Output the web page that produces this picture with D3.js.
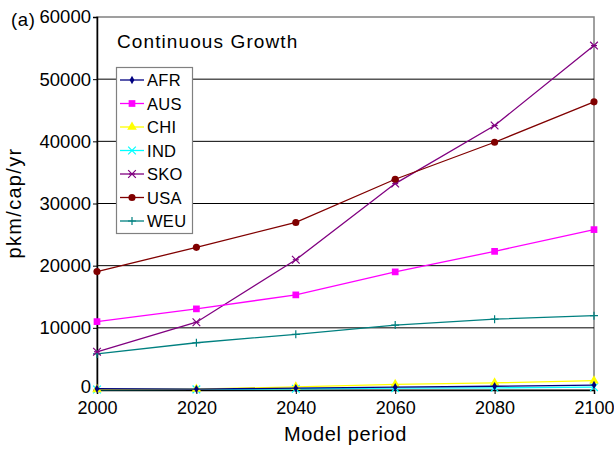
<!DOCTYPE html>
<html>
<head>
<meta charset="utf-8">
<script src="https://cdn.jsdelivr.net/npm/d3@7"></script>
<style>
  body { margin: 0; background: #fff; }
  text { font-family: "Liberation Sans", Arial, sans-serif; }
</style>
</head>
<body>
<div id="wrapper"></div>
<script>
const years = [2000, 2020, 2040, 2060, 2080, 2100];
const yTicks = [0, 10000, 20000, 30000, 40000, 50000, 60000];
const regions = ["AFR", "AUS", "CHI", "IND", "SKO", "USA", "WEU"];
const colors = ["#000080", "#ff00ff", "#ffff00", "#00ffff", "#800080", "#800000", "#008080"];
const markers = ["diamond", "square", "triangle", "x", "star", "circle", "plus"];

const afr = [200, 150, 300, 450, 600, 800];
const aus = [11000, 13050, 15300, 19000, 22300, 25800];
const chi = [100, 150, 500, 900, 1150, 1500];
const ind = [80, 100, 200, 300, 350, 450];
const sko = [6150, 10900, 20950, 33200, 42550, 55400];
const usa = [19050, 22950, 26950, 33900, 39850, 46350];
const weu = [5800, 7600, 8950, 10450, 11400, 11950];
const series = [afr, aus, chi, ind, sko, usa, weu];

async function drawChart() {
    let dimensions = {
        width: 614,
        height: 449,
        margins: { top: 17, right: 20, bottom: 59, left: 97 }
    };
    dimensions.boundedWidth = dimensions.width - dimensions.margins.left - dimensions.margins.right;
    dimensions.boundedHeight = dimensions.height - dimensions.margins.top - dimensions.margins.bottom;

    const wrapper = d3.select('#wrapper')
        .append('svg')
        .attr('width', dimensions.width)
        .attr('height', dimensions.height);

    const bounds = wrapper.append('g')
        .attr('transform', `translate(${dimensions.margins.left},${dimensions.margins.top})`);

    const xScale = d3.scaleLinear()
        .domain([2000, 2100])
        .range([0, dimensions.boundedWidth]);

    const yScale = d3.scaleLinear()
        .domain([0, 60000])
        .range([dimensions.boundedHeight, 0]);

    // frame: top and right in gray
    bounds.append('rect')
        .attr('x', 0).attr('y', 0)
        .attr('width', dimensions.boundedWidth)
        .attr('height', dimensions.boundedHeight)
        .attr('fill', 'none')
        .attr('stroke', '#808080')
        .attr('stroke-width', 1.5);

    // gridlines
    bounds.append('g').selectAll('line')
        .data(yTicks.slice(1, -1))
        .join('line')
        .attr('x1', 0).attr('x2', dimensions.boundedWidth)
        .attr('y1', d => yScale(d)).attr('y2', d => yScale(d))
        .attr('stroke', '#000')
        .attr('stroke-width', 1);

    const yAxis = bounds.append('g')
        .call(d3.axisLeft(yScale).tickValues(yTicks).tickSize(4).tickPadding(2).tickFormat(d3.format('d')));
    yAxis.select('.domain').attr('stroke', '#000').attr('stroke-width', 1.5);
    yAxis.selectAll('text').attr('font-size', 18.5).attr('fill', '#000')
        .style('font-family', '"Liberation Sans", Arial, sans-serif');
    // zero label sits a little higher so it clears the 2000 label
    yAxis.selectAll('.tick').filter(d => d === 0).select('text').attr('y', -3);

    const xAxis = bounds.append('g')
        .attr('transform', `translate(0,${dimensions.boundedHeight})`)
        .call(d3.axisBottom(xScale).tickValues(years).tickSize(4).tickPadding(7).tickFormat(d3.format('d')));
    xAxis.select('.domain').attr('stroke', '#000').attr('stroke-width', 1.5);
    xAxis.selectAll('text').attr('font-size', 18).attr('fill', '#000')
        .style('font-family', '"Liberation Sans", Arial, sans-serif');

    const sym = {
        diamond: d3.symbol().type(d3.symbolDiamond).size(20),
        square: d3.symbol().type(d3.symbolSquare).size(45),
        triangle: d3.symbol().type(d3.symbolTriangle).size(40),
        x: d3.symbol().type(d3.symbolX).size(40),
        star: d3.symbol().type(d3.symbolX).size(40),
        circle: d3.symbol().type(d3.symbolCircle).size(40),
        plus: d3.symbol().type(d3.symbolCross).size(30)
    };
    const strokeOnly = { x: true, plus: true, star: true };

    function drawMarker(g, kind, color, x, y) {
        const p = g.append('path')
            .attr('d', kind === 'plus' ? 'M-4,0H4M0,-4V4' : sym[kind]())
            .attr('transform', `translate(${x},${y})`);
        if (strokeOnly[kind]) {
            p.attr('fill', 'none').attr('stroke', color).attr('stroke-width', 1.2);
            if (kind === 'star') {
                g.append('path').attr('d', 'M-3,0H3')
                    .attr('transform', `translate(${x},${y})`)
                    .attr('stroke', color).attr('stroke-width', 1.2);
            }
        } else {
            p.attr('fill', color);
        }
    }

    const lineGen = d3.line()
        .x((d, i) => xScale(years[i]))
        .y(d => yScale(d));

    const order = [6, 4, 5, 1, 3, 2, 0];
    const lineG = bounds.append('g');
    order.forEach(k => {
        const g = lineG.append('g');
        g.append('path')
            .attr('d', lineGen(series[k]))
            .attr('fill', 'none')
            .attr('stroke', colors[k])
            .attr('stroke-width', 1.3);
        series[k].forEach((v, i) => drawMarker(g, markers[k], colors[k], xScale(years[i]), yScale(v)));
    });

    // title inside plot
    wrapper.append('text')
        .attr('x', 117).attr('y', 48)
        .attr('font-size', 19)
        .attr('letter-spacing', 1.1)
        .text('Continuous Growth');

    // legend
    const legend = wrapper.append('g');
    legend.append('rect')
        .attr('x', 116.5).attr('y', 67.5)
        .attr('width', 76).attr('height', 166)
        .attr('fill', '#fff')
        .attr('stroke', '#808080')
        .attr('stroke-width', 1.2);
    regions.forEach((r, k) => {
        const y = 80 + k * 23.5;
        legend.append('line')
            .attr('x1', 120).attr('x2', 144)
            .attr('y1', y).attr('y2', y)
            .attr('stroke', colors[k]).attr('stroke-width', 1.3);
        drawMarker(legend, markers[k], colors[k], 132, y);
        legend.append('text')
            .attr('x', 147).attr('y', y + 6)
            .attr('font-size', 16.5)
            .attr('letter-spacing', 0.3)
            .text(r);
    });

    wrapper.append('text')
        .attr('x', 11).attr('y', 26)
        .attr('font-size', 18.5)
        .attr('letter-spacing', 0.6)
        .text('(a)');

    wrapper.append('text')
        .attr('transform', `translate(21,203) rotate(-90)`)
        .attr('text-anchor', 'middle')
        .attr('font-size', 20)
        .attr('letter-spacing', 1.3)
        .text('pkm/cap/yr');

    wrapper.append('text')
        .attr('x', dimensions.margins.left + dimensions.boundedWidth / 2)
        .attr('y', 441)
        .attr('text-anchor', 'middle')
        .attr('font-size', 20)
        .attr('letter-spacing', 0.6)
        .text('Model period');
}

drawChart();
</script>
</body>
</html>
